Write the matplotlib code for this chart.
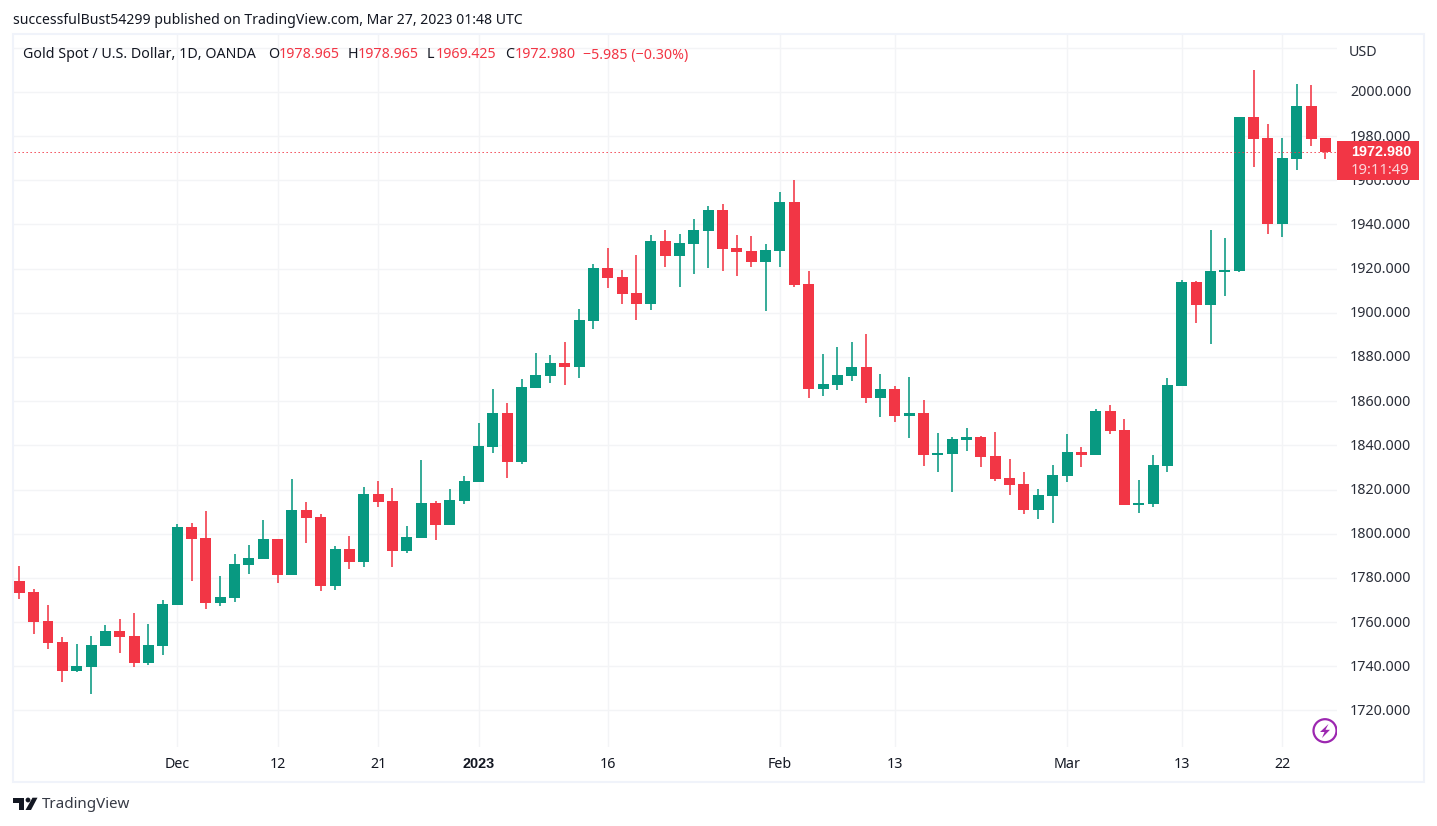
import numpy as np
import matplotlib
matplotlib.use("Agg")
import matplotlib.pyplot as plt
from matplotlib.patches import Circle, Polygon, Rectangle

plt.rcParams['font.family'] = ['Noto Sans', 'DejaVu Sans']

# daily candles
opens = [1778.6, 1773.6, 1760.5, 1751.0, 1737.9, 1739.7, 1749.2, 1756.0, 1753.7, 1741.5, 1749.2, 1767.7,
         1803.1, 1798.1, 1768.7, 1770.9, 1785.9, 1788.6, 1797.6, 1781.3, 1810.8, 1807.6, 1776.3, 1793.1,
         1787.2, 1818.0, 1814.8, 1792.2, 1798.1, 1813.9, 1804.0, 1814.8, 1823.4, 1839.3, 1854.7, 1832.5,
         1866.0, 1871.4, 1877.3, 1875.5, 1896.3, 1920.3, 1916.2, 1909.0, 1904.0, 1932.5, 1925.7, 1931.2,
         1937.1, 1946.6, 1929.4, 1928.0, 1923.0, 1928.0, 1950.2, 1913.1, 1865.5, 1867.3, 1871.4, 1875.5,
         1861.4, 1865.5, 1853.3, 1854.7, 1835.6, 1836.1, 1842.4, 1843.8, 1835.2, 1825.2, 1822.5, 1810.8,
         1817.1, 1826.1, 1837.0, 1835.6, 1855.6, 1847.0, 1813.0, 1813.5, 1830.7, 1866.9, 1914.0, 1903.6,
         1918.5, 1918.9, 1988.7, 1979.2, 1940.2, 1969.6, 1993.6, 1978.965]
highs = [1785.4, 1775.0, 1767.7, 1753.3, 1750.1, 1753.7, 1758.7, 1761.4, 1764.1, 1759.1, 1770.0, 1804.4,
         1804.9, 1810.3, 1780.9, 1790.8, 1794.9, 1806.2, 1797.6, 1824.8, 1814.4, 1808.9, 1794.5, 1799.0,
         1821.2, 1823.9, 1820.7, 1803.5, 1833.4, 1814.8, 1820.3, 1826.1, 1850.1, 1865.5, 1859.2, 1870.0,
         1881.8, 1880.9, 1886.8, 1901.7, 1922.1, 1929.4, 1919.4, 1926.2, 1935.2, 1937.5, 1935.7, 1942.5,
         1948.4, 1949.3, 1935.2, 1934.8, 1931.2, 1954.7, 1960.1, 1918.9, 1881.4, 1884.5, 1886.8, 1890.4,
         1872.3, 1866.9, 1870.9, 1860.5, 1845.6, 1843.8, 1847.9, 1844.2, 1846.1, 1833.8, 1828.0, 1820.3,
         1831.1, 1845.2, 1839.3, 1856.5, 1858.3, 1851.9, 1824.3, 1835.6, 1870.5, 1914.9, 1914.4, 1937.5,
         1933.9, 1988.7, 2009.9, 1985.5, 1979.2, 2003.6, 2003.1, 1978.965]
lows = [1770.5, 1754.6, 1747.8, 1732.9, 1737.4, 1727.5, 1749.2, 1746.0, 1739.7, 1740.6, 1745.1, 1767.7,
        1778.6, 1765.9, 1767.3, 1769.1, 1781.8, 1788.6, 1777.7, 1781.3, 1795.8, 1774.1, 1774.5, 1784.0,
        1785.0, 1812.1, 1785.0, 1791.3, 1798.1, 1797.2, 1804.0, 1813.5, 1823.4, 1836.6, 1825.2, 1831.6,
        1866.0, 1868.2, 1867.3, 1870.5, 1892.7, 1911.2, 1904.0, 1896.8, 1901.3, 1920.8, 1911.7, 1917.6,
        1920.3, 1918.9, 1916.7, 1920.8, 1900.8, 1920.8, 1911.7, 1861.5, 1862.4, 1865.1, 1869.1, 1859.2,
        1852.8, 1850.6, 1843.3, 1830.7, 1828.0, 1818.9, 1837.5, 1830.2, 1823.9, 1817.5, 1808.9, 1806.7,
        1804.9, 1823.4, 1830.2, 1835.6, 1845.2, 1813.0, 1809.4, 1812.1, 1827.9, 1866.9, 1895.4, 1885.9,
        1907.6, 1918.5, 1966.0, 1935.7, 1934.3, 1964.7, 1975.5, 1969.425]
closes = [1773.2, 1760.0, 1750.5, 1737.9, 1740.1, 1749.6, 1756.0, 1753.3, 1741.5, 1749.6, 1768.2, 1803.1,
          1797.6, 1768.7, 1771.4, 1786.3, 1789.0, 1797.6, 1781.3, 1810.8, 1807.1, 1776.3, 1793.1, 1787.2,
          1818.0, 1814.4, 1792.2, 1798.5, 1813.9, 1804.0, 1815.3, 1823.9, 1839.7, 1854.7, 1832.5, 1866.4,
          1871.9, 1877.3, 1875.5, 1896.8, 1920.3, 1915.8, 1908.5, 1904.0, 1932.5, 1925.7, 1931.6, 1937.5,
          1946.6, 1928.9, 1927.5, 1923.0, 1928.4, 1950.2, 1912.6, 1865.5, 1867.8, 1871.9, 1875.5, 1861.4,
          1865.5, 1853.3, 1854.7, 1835.6, 1836.5, 1842.9, 1843.8, 1834.7, 1824.8, 1822.1, 1810.8, 1817.5,
          1826.6, 1837.0, 1835.6, 1855.6, 1846.5, 1813.0, 1813.9, 1831.1, 1867.3, 1914.0, 1903.6, 1918.9,
          1919.4, 1988.7, 1978.7, 1940.2, 1970.1, 1993.6, 1978.7, 1972.980]

price_ticks = [1720, 1740, 1760, 1780, 1800, 1820, 1840, 1860, 1880, 1900, 1920, 1940, 1960, 1980, 2000, 2020]
time_pos = [11, 18, 25, 32, 41, 53, 61, 73, 81, 88]
time_labels = ['Dec', '12', '21', '2023', '16', 'Feb', '13', 'Mar', '13', '22']
last_price = 1972.980

UP = '#089981'
DOWN = '#F23645'
GRID = '#f3f4f6'
BORDER = '#f0f3fa'
TEXT = '#131722'
FS = 10.25

W, H = 1437, 826
fig = plt.figure(figsize=(W / 100, H / 100), dpi=100, facecolor='white')

# chart pane, in pixels: x 14-1337, y 35-747
ax = fig.add_axes([14 / W, 1 - 747 / H, (1337 - 14) / W, (747 - 35) / H])
ax.set_xlim(-0.369, 91.81)
ax.set_ylim(1703.44, 2025.76)
for s in ax.spines.values():
    s.set_visible(False)
ax.set_xticks([])
ax.set_yticks([])

ax.hlines(price_ticks, -1, 93, color=GRID, linewidth=1.0, zorder=1)
ax.vlines(time_pos, 1700, 2030, color=GRID, linewidth=1.0, zorder=1)
ax.axhline(last_price, color=DOWN, linewidth=0.72, linestyle=(0, (1.3, 2.7)), zorder=4)

x = np.arange(len(opens))
o = np.array(opens)
c = np.array(closes)
colors = [UP if b >= a else DOWN for a, b in zip(opens, closes)]
ax.vlines(x, lows, highs, colors=colors, linewidth=1.15, zorder=2)
ax.bar(x, np.abs(c - o), bottom=np.minimum(o, c), width=0.766, color=colors, linewidth=0, zorder=3)

# everything else goes on a pixel overlay
ov = fig.add_axes([0, 0, 1, 1], facecolor='none')
ov.set_xlim(0, W)
ov.set_ylim(H, 0)
ov.axis('off')

ov.add_patch(Rectangle((13, 34), 1411, 748, fill=False, edgecolor=BORDER, linewidth=1.5))

ov.text(13, 21, 'successfulBust54299 published on TradingView.com, Mar 27, 2023 01:48 UTC',
        fontsize=10.15, color=TEXT, va='center', ha='left')

ov.text(23, 55, 'Gold Spot / U.S. Dollar, 1D, OANDA', fontsize=FS, color=TEXT, va='center')
for xp, letter, xv, val in [(268.5, 'O', 278.5, '1978.965'), (347.5, 'H', 358, '1978.965'),
                            (427, 'L', 435.5, '1969.425'), (505, 'C', 514.5, '1972.980')]:
    ov.text(xp, 55, letter, fontsize=FS, color=TEXT, va='center')
    ov.text(xv, 55, val, fontsize=FS, color=DOWN, va='center')
ov.text(583, 55, '\u22125.985 (\u22120.30%)', fontsize=FS, color=DOWN, va='center')

ov.text(1349, 52, 'USD', fontsize=FS, color='#2a2e39', va='center')
for p in price_ticks[:-1]:
    ypx = 91.9 + (2000 - p) * 2.209
    ov.text(1350, ypx + 1, '%.3f' % p, fontsize=FS, color='#2a2e39', va='center')

for xi, lab in zip(time_pos, time_labels):
    if lab == '2023':
        ov.text(19.3 + 14.352 * xi, 764.5, lab, fontsize=10.4, color=TEXT, va='center', ha='center',
                family='Liberation Sans', fontweight='bold')
    else:
        ov.text(19.3 + 14.352 * xi, 765, lab, fontsize=FS, color=TEXT, va='center', ha='center')

# last price tag
ov.add_patch(Rectangle((1337, 140.7), 81.5, 39, facecolor=DOWN, edgecolor='none', zorder=5))
ov.text(1351, 152, '1972.980', fontsize=10.4, color='white', va='center', family='Liberation Sans',
        fontweight='bold', zorder=6)
ov.text(1351, 171, '19:11:49', fontsize=10.6, color='#fbd5d9', va='center', zorder=6)

# lightning badge, cut off by the pane edge
clip = Rectangle((1300, 700), 37, 60, transform=ov.transData)
badge = Circle((1325, 730.7), 11.5, fill=False, edgecolor='#9c27b0', linewidth=1.6, zorder=5)
ov.add_patch(badge)
badge.set_clip_path(clip)
ov.add_patch(Polygon([(1328.5, 724), (1320, 732), (1324.5, 732), (1322, 738),
                      (1330, 729.8), (1325.5, 729.8)], closed=True, facecolor='#9c27b0',
                     edgecolor='none', zorder=5))

# TradingView logo
ov.add_patch(Polygon([(13, 797.7), (24, 797.7), (24, 810), (18.5, 810), (18.5, 802.5), (13, 802.5)],
                     closed=True, facecolor=TEXT, edgecolor='none'))
ov.add_patch(Circle((28, 800), 2.4, facecolor=TEXT, edgecolor='none'))
ov.add_patch(Polygon([(32.5, 797.7), (37.5, 797.7), (31, 810), (25.5, 810)], closed=True,
                     facecolor=TEXT, edgecolor='none'))
ov.text(42, 805, 'TradingView', fontsize=10.9, color='#363a45', va='center')

fig.savefig('out.png', dpi=100)
